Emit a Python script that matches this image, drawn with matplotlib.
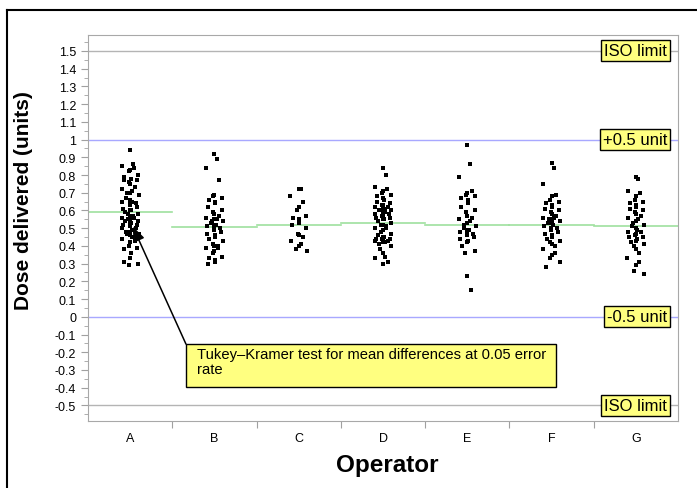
import matplotlib
matplotlib.use("Agg")
import matplotlib.pyplot as plt
import numpy as np
from matplotlib.patches import Rectangle
from matplotlib.lines import Line2D

plt.rcParams['font.family'] = ['Liberation Sans', 'DejaVu Sans']
plt.rcParams['axes.unicode_minus'] = False

operators = ['A', 'B', 'C', 'D', 'E', 'F', 'G']

dose_a = [0.94, 0.86, 0.85, 0.84, 0.83, 0.82, 0.80, 0.79, 0.78, 0.78, 0.77, 0.77,
          0.76, 0.75, 0.73, 0.72, 0.71, 0.70, 0.70, 0.69, 0.67, 0.66, 0.65, 0.65,
          0.64, 0.64, 0.63, 0.62, 0.61, 0.60, 0.60, 0.59, 0.58, 0.58, 0.57, 0.57,
          0.56, 0.56, 0.55, 0.55, 0.54, 0.54, 0.53, 0.53, 0.52, 0.52, 0.51, 0.51,
          0.50, 0.50, 0.49, 0.48, 0.48, 0.47, 0.47, 0.46, 0.45, 0.44, 0.43, 0.42,
          0.40, 0.39, 0.38, 0.36, 0.33, 0.31, 0.30, 0.29]
dose_b = [0.92, 0.89, 0.84, 0.77, 0.69, 0.68, 0.67, 0.66, 0.65, 0.64, 0.62, 0.60,
          0.59, 0.58, 0.57, 0.56, 0.55, 0.55, 0.54, 0.54, 0.53, 0.52, 0.52, 0.51,
          0.50, 0.50, 0.49, 0.48, 0.47, 0.46, 0.45, 0.44, 0.43, 0.41, 0.40, 0.40,
          0.39, 0.39, 0.37, 0.36, 0.34, 0.33, 0.32, 0.31, 0.30]
dose_c = [0.72, 0.72, 0.68, 0.65, 0.62, 0.60, 0.57, 0.56, 0.55, 0.53, 0.52, 0.50,
          0.47, 0.46, 0.45, 0.43, 0.41, 0.40, 0.38, 0.37]
dose_d = [0.84, 0.80, 0.73, 0.72, 0.71, 0.70, 0.69, 0.68, 0.67, 0.66, 0.65, 0.64,
          0.63, 0.63, 0.62, 0.62, 0.61, 0.61, 0.60, 0.60, 0.60, 0.59, 0.59, 0.58,
          0.58, 0.57, 0.57, 0.56, 0.56, 0.55, 0.55, 0.54, 0.53, 0.52, 0.52, 0.51,
          0.50, 0.50, 0.49, 0.48, 0.47, 0.46, 0.45, 0.45, 0.44, 0.44, 0.44, 0.43,
          0.43, 0.43, 0.42, 0.42, 0.41, 0.40, 0.38, 0.36, 0.34, 0.33, 0.31, 0.30]
dose_e = [0.97, 0.86, 0.79, 0.71, 0.70, 0.69, 0.68, 0.67, 0.66, 0.64, 0.62, 0.60,
          0.59, 0.57, 0.56, 0.55, 0.54, 0.53, 0.52, 0.51, 0.50, 0.49, 0.49, 0.48,
          0.47, 0.47, 0.46, 0.45, 0.44, 0.43, 0.42, 0.40, 0.37, 0.36, 0.23, 0.15]
dose_f = [0.87, 0.84, 0.75, 0.69, 0.68, 0.66, 0.65, 0.64, 0.63, 0.62, 0.61, 0.60,
          0.59, 0.58, 0.57, 0.56, 0.56, 0.55, 0.55, 0.54, 0.53, 0.53, 0.52, 0.51,
          0.50, 0.50, 0.49, 0.48, 0.47, 0.46, 0.45, 0.44, 0.43, 0.42, 0.41, 0.40,
          0.38, 0.36, 0.35, 0.33, 0.31, 0.28]
dose_g = [0.79, 0.78, 0.71, 0.70, 0.68, 0.66, 0.65, 0.64, 0.63, 0.62, 0.61, 0.60,
          0.59, 0.58, 0.57, 0.56, 0.55, 0.54, 0.53, 0.52, 0.51, 0.50, 0.49, 0.48,
          0.48, 0.47, 0.46, 0.45, 0.45, 0.44, 0.43, 0.42, 0.41, 0.40, 0.38, 0.36,
          0.33, 0.31, 0.29, 0.26, 0.24]
doses = [dose_a, dose_b, dose_c, dose_d, dose_e, dose_f, dose_g]

group_means = [0.59, 0.505, 0.52, 0.53, 0.52, 0.52, 0.51]

ref_levels = [1.5, 1.0, 0.0, -0.5]
ref_labels = ['ISO limit', '+0.5 unit', '-0.5 unit', 'ISO limit']
ref_colors = ['#b4b4b4', '#a8a8ff', '#a8a8ff', '#b4b4b4']

fig = plt.figure(figsize=(6.97, 4.89), dpi=100)
ax = fig.add_axes([0.1263, 0.137, 0.8465, 0.789])

# outer frame, clipped at right and bottom like the source
fig.add_artist(Line2D([7 / 697, 1.0], [1 - 11 / 489] * 2, color='black', lw=1.5))
fig.add_artist(Line2D([7 / 697] * 2, [0.0, 1 - 11 / 489], color='black', lw=1.5))

for lvl, col in zip(ref_levels, ref_colors):
    ax.axhline(lvl, color=col, lw=1, zorder=1)

for i, vals in enumerate(doses):
    pos = i + 1
    n = len(vals)
    # deterministic jitter, denser near the centre line
    jitter = np.sin(np.arange(n) * 2.4) ** 3 * 0.1
    ax.plot(pos + jitter, vals, 's', color='black', ms=2.3, mew=0, zorder=3)
    ax.plot([pos - 0.5, pos + 0.5], [group_means[i]] * 2, color='#9ee09e', lw=1.2, zorder=2)

for lvl, lab in zip(ref_levels, ref_labels):
    ax.text(7.37, lvl, lab, ha='right', va='center', fontsize=12, zorder=5,
            bbox=dict(boxstyle='square,pad=0.18', fc='#ffff80', ec='black', lw=1))

# Tukey-Kramer note
ax.add_patch(Rectangle((1.662, -0.395), 6.05 - 1.662, 0.241, fc='#ffff80',
                       ec='black', lw=1, zorder=5))
ax.text(1.79, -0.168, 'Tukey\u2013Kramer test for mean differences at 0.05 error\nrate',
        ha='left', va='top', fontsize=10.6, linespacing=1.15, zorder=6)
ax.annotate('', xy=(1.03, 0.51), xytext=(1.662, -0.154),
            arrowprops=dict(arrowstyle='-|>,head_length=0.9,head_width=0.35',
                            color='black', lw=1.1, shrinkA=0, shrinkB=0), zorder=6)

ax.set_xlim(0.5, 7.5)
ax.set_ylim(-0.588, 1.589)

ax.set_xticks(np.arange(1.5, 7.5, 1.0))
ax.set_xticklabels([])
ax.set_xticks(np.arange(1, 8), minor=True)
ax.set_xticklabels(operators, minor=True, fontsize=9)
ax.tick_params(axis='x', which='major', length=5, color='#a0a0a0')
ax.tick_params(axis='x', which='minor', length=0, pad=8)

yt = np.round(np.arange(-0.5, 1.51, 0.1), 1) + 0.0
ax.set_yticks(yt)
ax.set_yticklabels(['%g' % v for v in yt], fontsize=9)
ax.set_yticks(np.round(np.arange(-0.55, 1.56, 0.1), 2), minor=True)
ax.tick_params(axis='y', which='major', length=5, color='#a0a0a0')
ax.tick_params(axis='y', which='minor', length=3, color='#a0a0a0')

for s in ax.spines.values():
    s.set_color('#a8a8a8')

ax.set_ylabel('Dose delivered (units)', fontsize=15, fontweight='bold')
ax.set_xlabel('Operator', fontsize=17.5, fontweight='bold')
ax.yaxis.set_label_coords(-0.093, 0.573)
ax.xaxis.set_label_coords(0.507, -0.084)

fig.savefig('out.png', dpi=100)
